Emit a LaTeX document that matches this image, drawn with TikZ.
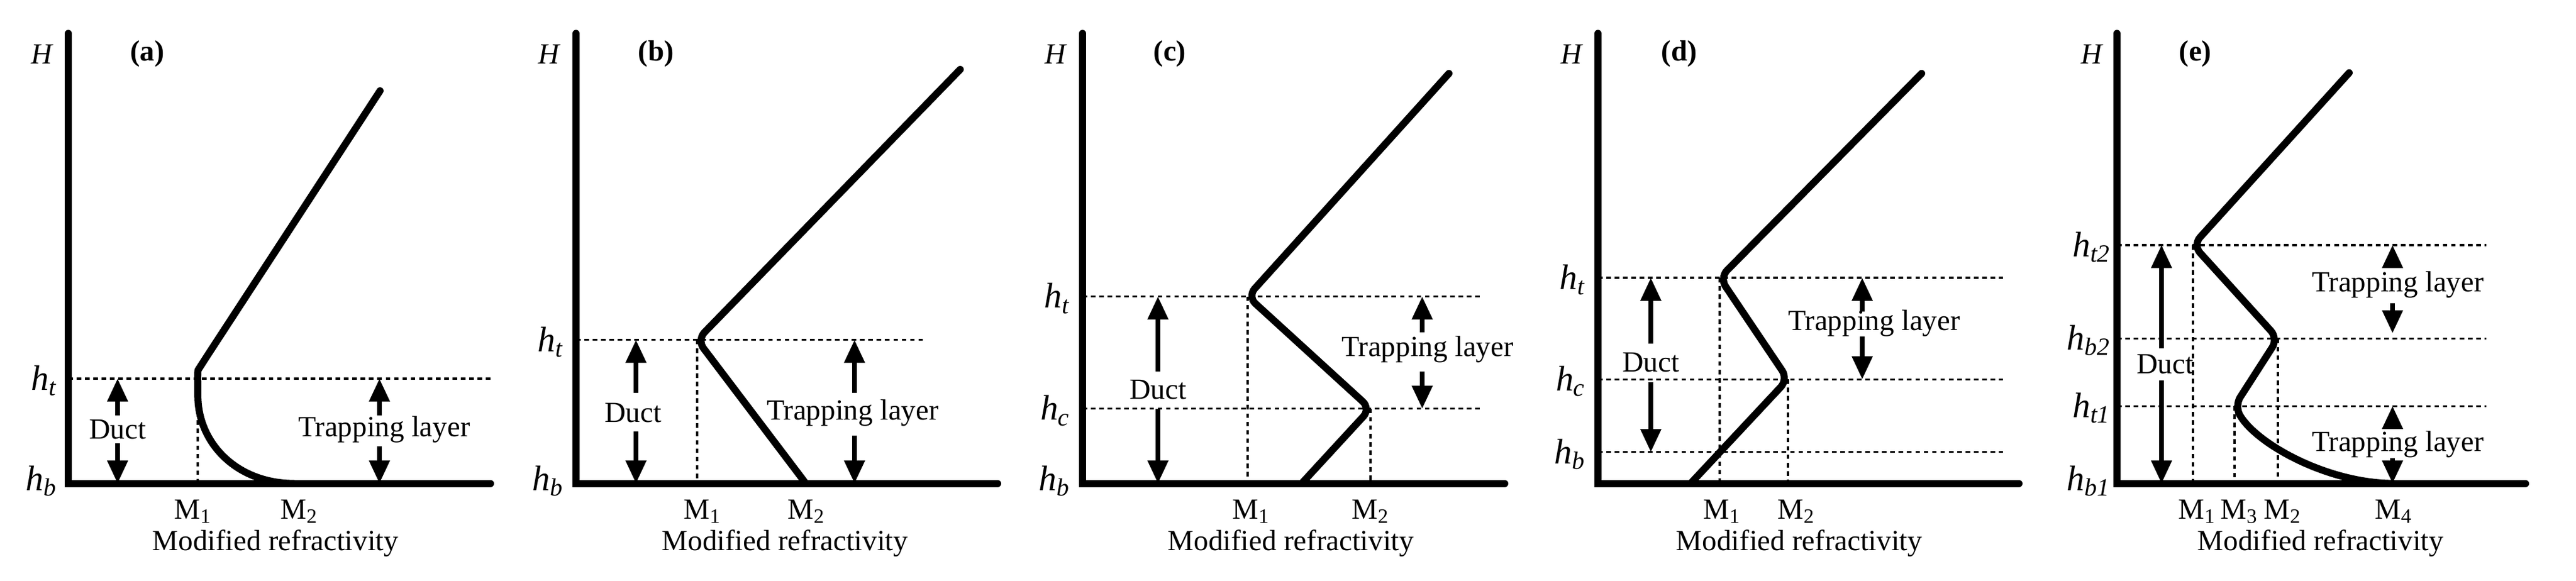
\documentclass[tikz,border=0pt]{standalone}
\usepackage{fontspec}
\setmainfont{Liberation Serif}
\usetikzlibrary{arrows.meta}
\newcommand\hlab[1]{\textit{h}\textsubscript{\textit{#1}}}
\begin{document}
\begin{tikzpicture}[x=0.01cm,y=-0.011244cm,
  ax/.style={line width=3.4pt,line cap=round},
  crv/.style={line width=3.4pt,line cap=round,rounded corners=5pt},
  dsh/.style={line width=0.9pt,dash pattern=on 2.2pt off 1.8pt},
  arr/.style={line width=2.2pt,-{Triangle[width=9.5pt,length=11pt]}},
  txt/.style={font=\fontsize{14}{16}\selectfont,inner sep=0pt},
  hl/.style={font=\fontsize{17}{19}\selectfont,inner sep=0pt,anchor=east},
  pl/.style={font=\fontsize{14}{16}\selectfont\bfseries,inner sep=0pt}]
\useasboundingbox (0,0) rectangle (4338,869.8);
% ---------- (a)
\coordinate (aO) at (115,724); \coordinate (aT) at (115,50); \coordinate (aR) at (826,724);
\draw[ax] (aT) -- (aO) -- (aR);
\node[txt,font=\fontsize{14}{16}\selectfont\itshape] (aH) at (70,81) {H};
\node[pl] (al) at (248,81) {(a)};
\draw[crv] (640,136) -- (343,541) .. controls (333,555) and (333,567) .. (333,578) .. controls (334,665) and (400,724) .. (495,724);
\draw[dsh] (115,567) -- (828,567);
\draw[dsh] (333,567) -- (333,724);
\node[hl] (aht) at (97,570) {\hlab{t}};
\node[hl] (ahb) at (97,720) {\hlab{b}};
\node[txt] (aduct) at (198,643) {Duct};
\draw[arr] (198,622) coordinate (a1) -- (198,567);
\draw[arr] (198,664) coordinate (a2) -- (198,724);
\node[txt] (atrap) at (647,643) {Trapping layer};
\draw[arr] (639,622) coordinate (a3) -- (639,567);
\draw[arr] (639,668) coordinate (a4) -- (639,724);
\node[txt] (aM1) at (325,766) {M\textsubscript{1}};
\node[txt] (aM2) at (504,766) {M\textsubscript{2}};
\node[txt] (amr) at (464,814) {Modified refractivity};
% ---------- (b)
\coordinate (bO) at (970,724); \coordinate (bT) at (970,50); \coordinate (bR) at (1680,724);
\draw[ax] (bT) -- (bO) -- (bR);
\node[txt,font=\fontsize{14}{16}\selectfont\itshape] (bH) at (924,81) {H};
\node[pl] (bl) at (1105,81) {(b)};
\draw[crv] (1617,104) -- (1174,509) -- (1357,724);
\draw[dsh] (970,509) -- (1556,509);
\draw[dsh] (1174,509) -- (1174,724);
\node[hl] (bht) at (950,512) {\hlab{t}};
\node[hl] (bhb) at (950,720) {\hlab{b}};
\node[txt] (bduct) at (1066,618) {Duct};
\draw[arr] (1071,588) coordinate (b1) -- (1071,509);
\draw[arr] (1071,646) coordinate (b2) -- (1071,724);
\node[txt] (btrap) at (1436,618) {Trapping layer};
\draw[arr] (1439,588) coordinate (b3) -- (1439,509);
\draw[arr] (1439,652) coordinate (b4) -- (1439,724);
\node[txt] (bM1) at (1183,766) {M\textsubscript{1}};
\node[txt] (bM2) at (1358,766) {M\textsubscript{2}};
\node[txt] (bmr) at (1322,814) {Modified refractivity};
% ---------- (c)
\coordinate (cO) at (1823,724); \coordinate (cT) at (1823,50); \coordinate (cR) at (2534,724);
\draw[ax] (cT) -- (cO) -- (cR);
\node[txt,font=\fontsize{14}{16}\selectfont\itshape] (cH) at (1777,81) {H};
\node[pl] (cl) at (1970,81) {(c)};
\draw[crv] (2440,110) -- (2101,444) -- (2308,612) -- (2192,724);
\draw[dsh] (1823,444) -- (2496,444);
\draw[dsh] (1823,612) -- (2496,612);
\draw[dsh] (2101,444) -- (2101,724);
\draw[dsh] (2308,612) -- (2308,724);
\node[hl] (cht) at (1803,447) {\hlab{t}};
\node[hl] (chc) at (1803,615) {\hlab{c}};
\node[hl] (chb) at (1803,720) {\hlab{b}};
\node[txt] (cduct) at (1950,584) {Duct};
\draw[arr] (1950,556) coordinate (c1) -- (1950,444);
\draw[arr] (1950,612) coordinate (c2) -- (1950,724);
\node[txt] (ctrap) at (2404,523) {Trapping layer};
\draw[arr] (2395,498) coordinate (c3) -- (2395,444);
\draw[arr] (2395,556) coordinate (c4) -- (2395,612);
\node[txt] (cM1) at (2107,766) {M\textsubscript{1}};
\node[txt] (cM2) at (2308,766) {M\textsubscript{2}};
\node[txt] (cmr) at (2174,814) {Modified refractivity};
% ---------- (d)
\coordinate (dO) at (2691,724); \coordinate (dT) at (2691,50); \coordinate (dR) at (3400,724);
\draw[ax] (dT) -- (dO) -- (dR);
\node[txt,font=\fontsize{14}{16}\selectfont\itshape] (dH) at (2646,81) {H};
\node[pl] (dl) at (2828,81) {(d)};
\draw[crv] (3236,110) -- (2896,416) -- (3011,568) -- (2847,724);
\draw[dsh] (2691,416) -- (3373,416);
\draw[dsh] (2691,568) -- (3373,568);
\draw[dsh] (2691,677) -- (3373,677);
\draw[dsh] (2896,416) -- (2896,724);
\draw[dsh] (3011,568) -- (3011,724);
\node[hl] (dht) at (2671,419) {\hlab{t}};
\node[hl] (dhc) at (2671,571) {\hlab{c}};
\node[hl] (dhb) at (2671,680) {\hlab{b}};
\node[txt] (dduct) at (2780,543) {Duct};
\draw[arr] (2780,515) coordinate (d1) -- (2780,416);
\draw[arr] (2780,572) coordinate (d2) -- (2780,677);
\node[txt] (dtrap) at (3156,484) {Trapping layer};
\draw[arr] (3136,467) coordinate (d3) -- (3136,416);
\draw[arr] (3136,504) coordinate (d4) -- (3136,568);
\node[txt] (dM1) at (2900,766) {M\textsubscript{1}};
\node[txt] (dM2) at (3025,766) {M\textsubscript{2}};
\node[txt] (dmr) at (3030,814) {Modified refractivity};
% ---------- (e)
\coordinate (eO) at (3565,724); \coordinate (eT) at (3565,50); \coordinate (eR) at (4253,724);
\draw[ax] (eT) -- (eO) -- (eR);
\node[txt,font=\fontsize{14}{16}\selectfont\itshape] (eH) at (3522,81) {H};
\node[pl] (el) at (3697,81) {(e)};
\draw[crv] (3956,109) -- (3693,367) -- (3836,507) -- (3763,608) .. controls (3800,665) and (3920,724) .. (4031,724);
\draw[dsh] (3565,367) -- (4187,367);
\draw[dsh] (3565,507) -- (4187,507);
\draw[dsh] (3565,608) -- (4187,608);
\draw[dsh] (3693,367) -- (3693,724);
\draw[dsh] (3763,608) -- (3763,724);
\draw[dsh] (3836,507) -- (3836,724);
\node[hl] (eht2) at (3555,370) {\hlab{t2}};
\node[hl] (ehb2) at (3555,510) {\hlab{b2}};
\node[hl] (eht1) at (3555,611) {\hlab{t1}};
\node[hl] (ehb1) at (3555,720) {\hlab{b1}};
\node[txt] (educt) at (3646,545) {Duct};
\draw[arr] (3640,522) coordinate (e1) -- (3640,367);
\draw[arr] (3640,570) coordinate (e2) -- (3640,724);
\node[txt] (etrap1) at (4038,426) {Trapping layer};
\draw[arr] (4029,400) coordinate (e3) -- (4029,367);
\draw[arr] (4029,454) coordinate (e4) -- (4029,499);
\node[txt] (etrap2) at (4038,665) {Trapping layer};
\draw[arr] (4029,642) coordinate (e5) -- (4029,608);
\draw[arr] (4029,686) coordinate (e6) -- (4029,724);
\node[txt] (eM1) at (3700,766) {M\textsubscript{1}};
\node[txt] (eM3) at (3771,766) {M\textsubscript{3}};
\node[txt] (eM2) at (3844,766) {M\textsubscript{2}};
\node[txt] (eM4) at (4031,766) {M\textsubscript{4}};
\node[txt] (emr) at (3908,814) {Modified refractivity};
\end{tikzpicture}
\end{document}
